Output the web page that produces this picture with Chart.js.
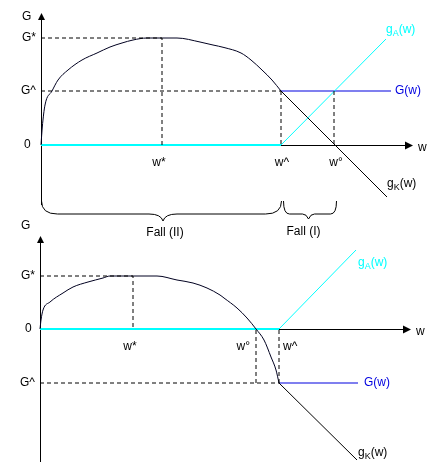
<!DOCTYPE html>
<html>
<head>
<meta charset="utf-8">
<script src="https://cdn.jsdelivr.net/npm/chart.js"></script>
<style>
  html, body { margin: 0; padding: 0; background: #fff; }
  .panel { position: absolute; left: 0; top: 0; width: 448px; height: 469px; }
</style>
</head>
<body>
<div class="panel"><canvas id="topChart"></canvas></div>
<div class="panel"><canvas id="bottomChart"></canvas></div>

<script>
    // oberes Bild: Fall (I) / Fall (II)
    var topW = [0, 0.13, 0.4, 1.1, 1.7, 2.7, 4.1, 5.6, 6.9, 8.1, 9.2, 10.6, 12.1, 13.6, 15.9, 17.2, 18.3, 20, 21, 22.1, 23.1, 24];
    var topG = [0, 1.8, 4, 5.4, 6.5, 7.5, 8.5, 9.2, 9.8, 10.2, 10.5, 10.7, 10.7, 10.7, 10.3, 10.0, 9.75, 9.2, 8.5, 7.5, 6.5, 5.4];
    var topTicksW = [12.1, 24, 29.3];          // w*, w^, w°
    var topTicksG = [10.7, 5.4];               // G*, G^
    var topGA = [[24, 0], [34.5, 10.6]];
    var topGK = [[24, 5.4], [34.6, -5.2]];
    var topGw = [[24, 5.4], [35, 5.4]];

    // unteres Bild
    var botW = [0, 0.1, 0.3, 1, 2.3, 3.3, 4.8, 6.3, 7, 9.3, 11.7, 13.7, 15.3, 16.7, 18, 18.4, 19.7, 20.7, 21.6, 22.4, 23.1, 23.6, 23.9];
    var botG = [0, 0.9, 1.9, 2.7, 3.6, 4.2, 4.7, 5.1, 5.3, 5.3, 5.3, 4.9, 4.6, 4.1, 3.4, 3.1, 2.1, 1.1, 0, -1.1, -2.8, -4.1, -5.4];
    var botTicksW = [9.3, 23.9, 21.6];         // w*, w^, w°
    var botTicksG = [5.3, -5.4];               // G*, G^
    var botGA = [[23.9, 0], [31.6, 7.9]];
    var botGK = [[23.9, -5.4], [31.7, -13.1]];
    var botGw = [[23.9, -5.4], [31.8, -5.4]];

    var FONT = '12px "Liberation Sans", Arial, sans-serif';
    var SUBFONT = '9px "Liberation Sans", Arial, sans-serif';
    var CYAN = '#00ffff', BLUE = '#0000e0', CURVE = '#000020';

    function pts(xs, ys) {
        return xs.map(function (x, i) { return { x: x, y: ys[i] }; });
    }
    function pair(p) {
        return p.map(function (q) { return { x: q[0], y: q[1] }; });
    }
    function seg(data, color, width, dash) {
        return { data: data, borderColor: color, borderWidth: width, borderDash: dash || [],
                 pointRadius: 0, tension: 0, fill: false, clip: false };
    }

    function buildDatasets(w, g, tw, tg, gA, gK, Gw) {
        var wStar = tw[0], wHat = tw[1], wO = tw[2], gStar = tg[0], gHat = tg[1];
        var dash = [4, 3];
        var curve = seg(pts(w, g), CURVE, 1);
        curve.cubicInterpolationMode = 'monotone';
        return [
            seg([{ x: 0, y: gStar }, { x: wStar, y: gStar }, { x: wStar, y: 0 }], '#000', 1, dash),
            seg([{ x: 0, y: gHat }, { x: wHat, y: gHat }], '#000', 1, dash),
            seg([{ x: wHat, y: gHat }, { x: wHat, y: 0 }], '#000', 1, dash),
            seg([{ x: wO, y: gHat }, { x: wO, y: 0 }], '#000', 1, dash),
            curve,
            seg([{ x: 0, y: 0 }, { x: wHat, y: 0 }], CYAN, 2),
            seg(pair(gA), CYAN, 1),
            seg(pair(gK), '#000', 1),
            seg(pair(Gw), BLUE, 1.2)
        ];
    }

    function txt(ctx, s, x, y, color, align) {
        ctx.font = FONT;
        ctx.fillStyle = color || '#000';
        ctx.textAlign = align || 'left';
        ctx.textBaseline = 'middle';
        ctx.fillText(s, x, y);
    }
    function subTxt(ctx, base, sub, tail, x, y, color) {
        ctx.textAlign = 'left';
        ctx.textBaseline = 'middle';
        ctx.fillStyle = color;
        ctx.font = FONT; ctx.fillText(base, x, y); x += ctx.measureText(base).width;
        ctx.font = SUBFONT; ctx.fillText(sub, x, y + 4); x += ctx.measureText(sub).width;
        ctx.font = FONT; ctx.fillText(tail, x, y);
    }

    // Achsen mit Pfeilen, vor den Datensaetzen
    var axesPlugin = {
        id: 'axes',
        beforeDatasetsDraw: function (chart) {
            var ctx = chart.ctx, a = chart.chartArea;
            var x0 = Math.round(chart.scales.x.getPixelForValue(0)) + 0.5;
            var y0 = Math.round(chart.scales.y.getPixelForValue(0)) + 0.5;
            ctx.save();
            ctx.strokeStyle = '#000';
            ctx.fillStyle = '#000';
            ctx.lineWidth = 1;
            ctx.beginPath();
            ctx.moveTo(x0, a.top + 5); ctx.lineTo(x0, a.bottom);
            ctx.moveTo(x0, y0); ctx.lineTo(a.right - 6, y0);
            ctx.stroke();
            ctx.beginPath();
            ctx.moveTo(x0, a.top); ctx.lineTo(x0 - 3.5, a.top + 7); ctx.lineTo(x0 + 3.5, a.top + 7);
            ctx.closePath(); ctx.fill();
            ctx.beginPath();
            ctx.moveTo(a.right, y0); ctx.lineTo(a.right - 8, y0 - 4); ctx.lineTo(a.right - 8, y0 + 4);
            ctx.closePath(); ctx.fill();
            ctx.restore();
        }
    };

    function brace(ctx, xa, xb, xm, yEnd, yLine, yTip, r, h) {
        ctx.beginPath();
        ctx.moveTo(xa, yEnd);
        ctx.quadraticCurveTo(xa, yLine, xa + r, yLine);
        ctx.lineTo(xm - h, yLine);
        ctx.quadraticCurveTo(xm - 2, yLine, xm, yTip);
        ctx.quadraticCurveTo(xm + 2, yLine, xm + h, yLine);
        ctx.lineTo(xb - r, yLine);
        ctx.quadraticCurveTo(xb, yLine, xb, yEnd);
        ctx.stroke();
    }

    function labelsPlugin(isTop, tw, tg, gA, gK, Gw) {
        return {
            id: 'labels',
            afterDatasetsDraw: function (chart) {
                var ctx = chart.ctx, a = chart.chartArea;
                var xs = chart.scales.x, ys = chart.scales.y;
                var x0 = xs.getPixelForValue(0), y0 = ys.getPixelForValue(0);
                var pStar = xs.getPixelForValue(tw[0]), pHat = xs.getPixelForValue(tw[1]), pO = xs.getPixelForValue(tw[2]);
                ctx.save();
                // y-Achse
                txt(ctx, 'G', x0 - 19, isTop ? a.top + 4 : a.top - 10);
                txt(ctx, 'G*', x0 - 19, ys.getPixelForValue(tg[0]));
                txt(ctx, 'G^', x0 - 20, ys.getPixelForValue(tg[1]));
                txt(ctx, '0', x0 - (isTop ? 17 : 15), y0);
                txt(ctx, 'w', a.right + 5, y0 + 3);
                // x-Achse
                txt(ctx, 'w*', pStar - 3, y0 + 18, '#000', 'center');
                if (isTop) {
                    txt(ctx, 'w^', pHat + 1, y0 + 18, '#000', 'center');
                    txt(ctx, 'w°', pO + 2, y0 + 18, '#000', 'center');
                } else {
                    txt(ctx, 'w°', pO - 6, y0 + 18, '#000', 'right');
                    txt(ctx, 'w^', pHat + 4, y0 + 18, '#000', 'left');
                }
                // Kurvenbeschriftungen
                var ea = { x: xs.getPixelForValue(gA[1][0]), y: ys.getPixelForValue(gA[1][1]) };
                var ek = { x: xs.getPixelForValue(gK[1][0]), y: ys.getPixelForValue(gK[1][1]) };
                var eg = { x: xs.getPixelForValue(Gw[1][0]), y: ys.getPixelForValue(Gw[1][1]) };
                if (isTop) {
                    subTxt(ctx, 'g', 'A', '(w)', ea.x, ea.y - 9, CYAN);
                    subTxt(ctx, 'g', 'K', '(w)', ek.x, ek.y - 13, '#000');
                    txt(ctx, 'G(w)', eg.x + 4, eg.y, BLUE);
                } else {
                    subTxt(ctx, 'g', 'A', '(w)', ea.x + 2, ea.y + 13, CYAN);
                    subTxt(ctx, 'g', 'K', '(w)', ek.x + 1, ek.y - 7, '#000');
                    txt(ctx, 'G(w)', eg.x + 6, eg.y, BLUE);
                }
                // Klammern Fall (II) / Fall (I)
                if (isTop) {
                    ctx.strokeStyle = '#000';
                    ctx.lineWidth = 1;
                    var yb = a.bottom;
                    brace(ctx, x0 + 0.5, pHat + 0.5, (x0 + pHat) / 2 + 2, yb - 4, yb + 9, yb + 16, 16, 14);
                    brace(ctx, pHat + 2.5, pO + 2.5, (pHat + pO) / 2 + 1, yb - 4, yb + 9, yb + 14, 6, 6);
                    txt(ctx, 'Fall (II)', (x0 + pHat) / 2 + 4, yb + 28, '#000', 'center');
                    txt(ctx, 'Fall (I)', (pHat + pO) / 2 - 4, yb + 27, '#000', 'center');
                }
                ctx.restore();
            }
        };
    }

    function makeChart(id, isTop, w, g, tw, tg, gA, gK, Gw, range, pad) {
        return new Chart(document.getElementById(id).getContext('2d'), {
            type: 'line',
            data: { datasets: buildDatasets(w, g, tw, tg, gA, gK, Gw) },
            options: {
                animation: false,
                responsive: true,
                maintainAspectRatio: false,
                layout: { padding: pad },
                plugins: { legend: { display: false }, tooltip: { enabled: false } },
                scales: {
                    x: { type: 'linear', display: false, min: range[0], max: range[1] },
                    y: { type: 'linear', display: false, min: range[2], max: range[3] }
                }
            },
            plugins: [axesPlugin, labelsPlugin(isTop, tw, tg, gA, gK, Gw)]
        });
    }

    makeChart('topChart', true, topW, topG, topTicksW, topTicksG, topGA, topGK, topGw,
        [0, 37.2, -6, 13.2], { left: 41, right: 35, top: 13, bottom: 264 });
    makeChart('bottomChart', false, botW, botG, botTicksW, botTicksG, botGA, botGK, botGw,
        [0, 37.1, -13.3, 9.3], { left: 40, right: 37, top: 236, bottom: 7 });
</script>
</body>
</html>
